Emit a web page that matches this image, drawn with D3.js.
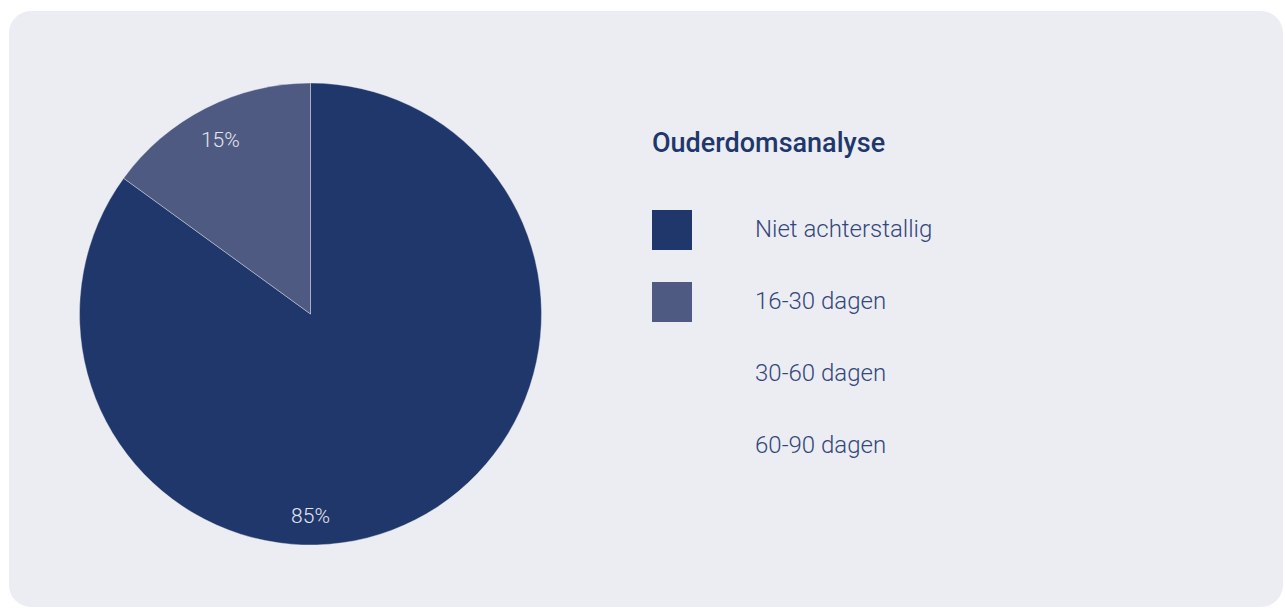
<!DOCTYPE html>
<html>
<head>
<meta charset="utf-8">
<script src="https://cdn.jsdelivr.net/npm/d3@7"></script>
<style>
  html, body { margin: 0; padding: 0; background: #ffffff; }
  svg { display: block; font-family: Roboto, "Noto Sans", sans-serif; }
</style>
</head>
<body>
<svg id="chart" width="1285" height="608"></svg>
<script>
const title = "Ouderdomsanalyse";
const categories = ["Niet achterstallig", "16-30 dagen", "30-60 dagen", "60-90 dagen"];
const values = [85, 15, 0, 0];
const colors = ["#1f376b", "#4f5a82", "#6b7699", "#8a93b0"];

const svg = d3.select("#chart");

svg.append("rect")
  .attr("x", 9).attr("y", 11)
  .attr("width", 1274).attr("height", 596)
  .attr("rx", 22).attr("ry", 22)
  .attr("fill", "#ecedf3");

const cx = 310.5, cy = 314, r = 231;
const g = svg.append("g").attr("transform", `translate(${cx},${cy})`);

const data = categories.map((c, i) => ({ cat: c, value: values[i], color: colors[i] }));
const pie = d3.pie().value(d => d.value).sort(null);
const arcs = pie(data).filter(d => d.value > 0);
const arc = d3.arc().innerRadius(0).outerRadius(r);

g.selectAll("path.slice").data(arcs).enter().append("path")
  .attr("class", "slice")
  .attr("d", arc)
  .attr("fill", d => d.data.color)
  .attr("stroke", "#ecedf3")
  .attr("stroke-width", 0.4);

const labelR = r * 0.86;
const labelAngle = d => (d.endAngle - d.startAngle) > Math.PI ? Math.PI : (d.startAngle + d.endAngle) / 2;
g.selectAll("text.pct").data(arcs).enter().append("text")
  .attr("class", "pct")
  .attr("x", d => labelR * Math.sin(labelAngle(d)))
  .attr("y", d => -labelR * Math.cos(labelAngle(d)) + 3)
  .attr("text-anchor", "middle")
  .attr("dominant-baseline", "central")
  .attr("fill", "#e3e6ee")
  .attr("font-size", 21)
  .attr("font-weight", 300)
  .text(d => d3.format(".0%")(d.value / d3.sum(values)));

// Legend
const lg = svg.append("g");
lg.append("text")
  .attr("x", 652).attr("y", 151.5)
  .attr("fill", "#1f376b")
  .attr("font-size", 27)
  .attr("font-weight", 500)
  .text(title);

const ly = d3.scalePoint().domain(categories).range([230, 446]);

const items = lg.selectAll("g.item").data(data).enter().append("g").attr("class", "item");
items.filter(d => d.value > 0).append("rect")
  .attr("x", 652)
  .attr("y", d => ly(d.cat) - 20)
  .attr("width", 40).attr("height", 40)
  .attr("fill", d => d.color);
items.append("text")
  .attr("x", 755)
  .attr("y", d => ly(d.cat) + 6.5)
  .attr("fill", "#34477a")
  .attr("font-size", 24)
  .attr("font-weight", 300)
  .text(d => d.cat);
</script>
</body>
</html>
